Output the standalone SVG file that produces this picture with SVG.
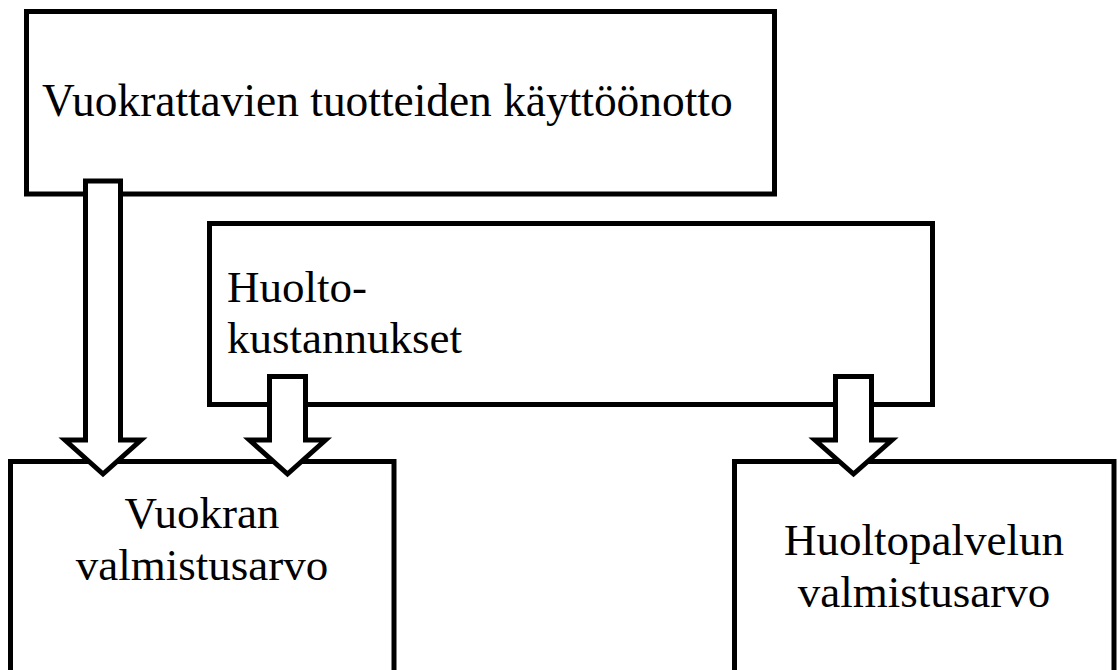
<svg xmlns="http://www.w3.org/2000/svg" width="1118" height="670" viewBox="0 0 1118 670">
<style>
.box{fill:#fff;stroke:#000;stroke-width:5}
.arr{fill:#fff;stroke:#000;stroke-width:5;stroke-linejoin:miter}
.t{font-family:'Liberation Serif','Times New Roman',serif;font-size:45px;fill:#000}
</style>
<rect width="1118" height="670" fill="#fff"/>
<g id="node-kayttoonotto">
<rect class="box" x="26.5" y="11.5" width="748" height="182.5"/>
<text class="t" x="42" y="116" style="font-size:45.4px">Vuokrattavien tuotteiden käyttöönotto</text>
</g>
<g id="node-huoltokustannukset">
<rect class="box" x="209.5" y="223.5" width="723" height="181"/>
<text class="t" x="227" y="302">Huolto-</text>
<text class="t" x="227" y="353">kustannukset</text>
</g>
<g id="node-vuokran">
<rect class="box" x="10.5" y="461.5" width="383.5" height="220"/>
<text class="t" x="202" y="528" text-anchor="middle">Vuokran</text>
<text class="t" x="202" y="580" text-anchor="middle">valmistusarvo</text>
</g>
<g id="node-huoltopalvelun">
<rect class="box" x="734.5" y="461.5" width="379.5" height="220"/>
<text class="t" x="924" y="555" text-anchor="middle">Huoltopalvelun</text>
<text class="t" x="924" y="607" text-anchor="middle">valmistusarvo</text>
</g>
<g id="connectors">
<polygon class="arr" points="85.5,181 120.5,181 120.5,440 141,440 103,474 65,440 85.5,440"/>
<polygon class="arr" points="269.5,376.5 305.5,376.5 305.5,440 325.5,440 287.5,474 249.5,440 269.5,440"/>
<polygon class="arr" points="835.5,376.5 871.5,376.5 871.5,440 892,440 853.5,474 815,440 835.5,440"/>
</g>
</svg>
